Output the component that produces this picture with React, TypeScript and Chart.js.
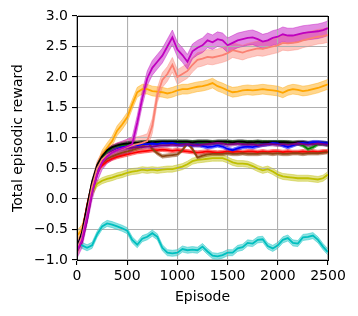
import React, { useEffect, useRef } from "react";
import { Chart, registerables } from "chart.js";
Chart.register(...registerables);

const episodes = [
  0, 50, 100, 150, 200, 250, 300, 350, 400, 450,
  500, 550, 600, 650, 700, 750, 800, 850, 900, 950,
  1000, 1050, 1100, 1150, 1200, 1250, 1300, 1350, 1400, 1450,
  1500, 1550, 1600, 1650, 1700, 1750, 1800, 1850, 1900, 1950,
  2000, 2050, 2100, 2150, 2200, 2250, 2300, 2350, 2400, 2450, 2500,
];

const magentaVals = [
  -0.85, -0.68, -0.30, 0.10, 0.40, 0.60, 0.70, 0.76, 0.80, 0.83,
  0.86, 0.90, 1.25, 1.65, 1.98, 2.15, 2.25, 2.35, 2.50, 2.65,
  2.45, 2.36, 2.25, 2.42, 2.48, 2.52, 2.60, 2.57, 2.62, 2.60,
  2.52, 2.56, 2.60, 2.62, 2.64, 2.65, 2.62, 2.58, 2.60, 2.64,
  2.66, 2.70, 2.68, 2.68, 2.70, 2.72, 2.73, 2.74, 2.75, 2.77, 2.80,
];
const salmonVals = [
  -0.82, -0.62, -0.25, 0.20, 0.50, 0.65, 0.72, 0.76, 0.80, 0.82,
  0.85, 0.88, 0.90, 0.92, 0.95, 1.20, 1.70, 1.95, 2.05, 2.20,
  2.00, 2.05, 2.10, 2.20, 2.28, 2.30, 2.33, 2.32, 2.34, 2.36,
  2.39, 2.44, 2.42, 2.40, 2.43, 2.45, 2.47, 2.46, 2.48, 2.50,
  2.52, 2.56, 2.55, 2.56, 2.57, 2.60, 2.62, 2.64, 2.66, 2.67, 2.69,
];
const orangeVals = [
  -0.60, -0.50, -0.20, 0.20, 0.50, 0.72, 0.84, 0.95, 1.12, 1.22,
  1.34, 1.55, 1.75, 1.80, 1.80, 1.77, 1.76, 1.75, 1.73, 1.75,
  1.78, 1.80, 1.80, 1.82, 1.84, 1.85, 1.87, 1.90, 1.85, 1.82,
  1.78, 1.75, 1.76, 1.78, 1.79, 1.78, 1.79, 1.80, 1.79, 1.78,
  1.77, 1.74, 1.78, 1.80, 1.79, 1.77, 1.78, 1.80, 1.82, 1.85, 1.88,
];
const blackVals = [
  -0.80, -0.55, -0.12, 0.28, 0.55, 0.70, 0.80, 0.85, 0.88, 0.90,
  0.91, 0.92, 0.92, 0.93, 0.93, 0.93, 0.94, 0.94, 0.94, 0.94,
  0.94, 0.94, 0.94, 0.93, 0.94, 0.94, 0.94, 0.93, 0.94, 0.94,
  0.94, 0.93, 0.94, 0.94, 0.93, 0.93, 0.94, 0.93, 0.93, 0.93,
  0.93, 0.93, 0.93, 0.92, 0.93, 0.93, 0.92, 0.92, 0.92, 0.92, 0.91,
];
const greenVals = [
  -0.82, -0.60, -0.20, 0.20, 0.50, 0.68, 0.78, 0.84, 0.87, 0.88,
  0.90, 0.91, 0.92, 0.92, 0.93, 0.93, 0.92, 0.93, 0.93, 0.93,
  0.93, 0.93, 0.93, 0.93, 0.93, 0.93, 0.93, 0.93, 0.93, 0.93,
  0.93, 0.93, 0.93, 0.93, 0.93, 0.93, 0.93, 0.93, 0.93, 0.93,
  0.93, 0.93, 0.92, 0.92, 0.91, 0.88, 0.82, 0.85, 0.90, 0.91, 0.89,
];
const blueVals = [
  -0.82, -0.62, -0.25, 0.15, 0.45, 0.62, 0.72, 0.78, 0.82, 0.85,
  0.86, 0.88, 0.88, 0.90, 0.90, 0.91, 0.90, 0.92, 0.91, 0.92,
  0.90, 0.89, 0.90, 0.88, 0.89, 0.87, 0.85, 0.86, 0.88, 0.86,
  0.82, 0.80, 0.83, 0.85, 0.86, 0.85, 0.87, 0.89, 0.90, 0.92,
  0.91, 0.88, 0.85, 0.88, 0.91, 0.92, 0.91, 0.93, 0.93, 0.92, 0.91,
];
const purpleVals = [
  -0.85, -0.70, -0.35, 0.10, 0.40, 0.62, 0.73, 0.78, 0.81, 0.83,
  0.84, 0.84, 0.85, 0.85, 0.86, 0.86, 0.87, 0.88, 0.88, 0.89,
  0.88, 0.89, 0.90, 0.89, 0.88, 0.89, 0.90, 0.91, 0.92, 0.91,
  0.89, 0.90, 0.91, 0.90, 0.89, 0.90, 0.88, 0.89, 0.90, 0.90,
  0.89, 0.90, 0.89, 0.90, 0.91, 0.90, 0.89, 0.90, 0.91, 0.90, 0.89,
];
const redVals = [
  -0.85, -0.55, -0.10, 0.25, 0.45, 0.55, 0.62, 0.66, 0.69, 0.71,
  0.73, 0.75, 0.77, 0.78, 0.79, 0.80, 0.80, 0.81, 0.80, 0.79,
  0.80, 0.79, 0.78, 0.77, 0.76, 0.77, 0.78, 0.77, 0.76, 0.77,
  0.78, 0.77, 0.78, 0.77, 0.78, 0.78, 0.77, 0.78, 0.77, 0.78,
  0.78, 0.77, 0.78, 0.77, 0.77, 0.78, 0.77, 0.78, 0.77, 0.78, 0.78,
];
const brownVals = [
  -0.82, -0.60, -0.20, 0.20, 0.48, 0.60, 0.66, 0.70, 0.73, 0.76,
  0.78, 0.80, 0.83, 0.86, 0.95, 0.82, 0.75, 0.70, 0.71, 0.72,
  0.73, 0.80, 0.92, 0.82, 0.68, 0.71, 0.73, 0.74, 0.74, 0.74,
  0.75, 0.74, 0.74, 0.75, 0.74, 0.74, 0.74, 0.75, 0.75, 0.74,
  0.75, 0.74, 0.74, 0.75, 0.75, 0.74, 0.75, 0.75, 0.75, 0.76, 0.77,
];
const oliveVals = [
  -0.85, -0.60, -0.20, 0.10, 0.25, 0.30, 0.33, 0.35, 0.38, 0.40,
  0.43, 0.45, 0.46, 0.48, 0.47, 0.48, 0.47, 0.48, 0.49, 0.49,
  0.51, 0.53, 0.57, 0.62, 0.64, 0.65, 0.66, 0.67, 0.67, 0.67,
  0.64, 0.60, 0.58, 0.58, 0.57, 0.54, 0.50, 0.47, 0.49, 0.45,
  0.40, 0.37, 0.36, 0.35, 0.34, 0.34, 0.34, 0.33, 0.32, 0.34, 0.40,
];
const cyanVals = [
  -0.72, -0.76, -0.80, -0.76, -0.58, -0.45, -0.40, -0.42, -0.45, -0.48,
  -0.52, -0.67, -0.75, -0.65, -0.62, -0.56, -0.62, -0.80, -0.88, -0.89,
  -0.88, -0.82, -0.84, -0.83, -0.84, -0.78, -0.86, -0.93, -0.94, -0.92,
  -0.88, -0.88, -0.81, -0.79, -0.72, -0.73, -0.67, -0.66, -0.77, -0.81,
  -0.76, -0.67, -0.64, -0.72, -0.73, -0.63, -0.62, -0.60, -0.67, -0.78, -0.87,
];

// half-widths of the shaded bands
const magentaBand = 0.12;
const salmonBand = 0.12;
const orangeBand = 0.08;
const oliveBand = 0.05;
const cyanBand = 0.05;
const clusterBand = 0.03;

const seriesList = [
  { name: "magenta", values: magentaVals, band: magentaBand, rgb: [191, 0, 191] },
  { name: "salmon", values: salmonVals, band: salmonBand, rgb: [250, 128, 114] },
  { name: "purple", values: purpleVals, band: clusterBand, rgb: [128, 0, 128] },
  { name: "blue", values: blueVals, band: clusterBand, rgb: [0, 0, 255] },
  { name: "black", values: blackVals, band: clusterBand, rgb: [0, 0, 0] },
  { name: "green", values: greenVals, band: clusterBand, rgb: [0, 128, 0] },
  { name: "brown", values: brownVals, band: clusterBand, rgb: [139, 69, 19] },
  { name: "red", values: redVals, band: clusterBand, rgb: [255, 0, 0] },
  { name: "orange", values: orangeVals, band: orangeBand, rgb: [255, 165, 0] },
  { name: "olive", values: oliveVals, band: oliveBand, rgb: [191, 191, 0] },
  { name: "cyan", values: cyanVals, band: cyanBand, rgb: [0, 191, 191] },
];

const FONT = "'DejaVu Sans', sans-serif";

const framePlugin = {
  id: "frame",
  afterDatasetsDraw(chart: any) {
    const { ctx, chartArea } = chart;
    ctx.save();
    ctx.strokeStyle = "#000";
    ctx.lineWidth = 1;
    ctx.strokeRect(
      Math.round(chartArea.left) + 0.5,
      Math.round(chartArea.top) + 0.5,
      Math.round(chartArea.right - chartArea.left),
      Math.round(chartArea.bottom - chartArea.top)
    );
    ctx.restore();
  },
};

export default function App() {
  const ref = useRef<HTMLCanvasElement | null>(null);

  useEffect(() => {
    if (!ref.current) return;
    const datasets: any[] = [];
    seriesList.forEach((s, k) => {
      const rgba = (a: number) => `rgba(${s.rgb[0]},${s.rgb[1]},${s.rgb[2]},${a})`;
      const pts = (d: number) => episodes.map((e, i) => ({ x: e, y: s.values[i] + d }));
      const upperIdx = datasets.length;
      datasets.push({
        label: s.name + " upper",
        data: pts(s.band),
        borderColor: rgba(0.5),
        borderWidth: 0.8,
        backgroundColor: rgba(0.45),
        fill: { target: upperIdx + 1 },
        pointRadius: 0,
        tension: 0,
        order: 100,
      });
      datasets.push({
        label: s.name + " lower",
        data: pts(-s.band),
        borderColor: rgba(0.5),
        borderWidth: 0.8,
        fill: false,
        pointRadius: 0,
        tension: 0,
        order: 100,
      });
      datasets.push({
        label: s.name,
        data: pts(0),
        borderColor: rgba(1),
        borderWidth: 1.8,
        fill: false,
        pointRadius: 0,
        tension: 0,
        order: k,
      });
    });

    const chart = new Chart(ref.current, {
      type: "line",
      data: { datasets },
      plugins: [framePlugin],
      options: {
        animation: false,
        responsive: true,
        maintainAspectRatio: false,
        layout: { padding: { left: 0, right: 30, top: 16, bottom: 0 } },
        plugins: {
          legend: { display: false },
          tooltip: { enabled: false },
          filler: { drawTime: "beforeDraw" } as any,
        },
        scales: {
          x: {
            type: "linear",
            min: 0,
            max: 2500,
            afterFit: (scale: any) => {
              scale.height = 56;
            },
            ticks: {
              stepSize: 500,
              color: "#000",
              font: { family: FONT, size: 14 },
              padding: 3,
              maxRotation: 0,
              callback: (v: any) => String(Number(v)),
            },
            grid: { color: "#b0b0b0", lineWidth: 1.1, tickColor: "#000", tickLength: 5 },
            border: { color: "#000", width: 1 },
            title: {
              display: true,
              text: "Episode",
              color: "#000",
              font: { family: FONT, size: 14 },
              padding: { top: 0, bottom: 10 },
            },
          },
          y: {
            type: "linear",
            min: -1,
            max: 3,
            afterFit: (scale: any) => {
              scale.width = 77;
            },
            ticks: {
              stepSize: 0.5,
              color: "#000",
              font: { family: FONT, size: 14 },
              padding: 4,
              callback: (v: any) => {
                const n = Number(v);
                return (n < 0 ? "\u2212" : "") + Math.abs(n).toFixed(1);
              },
            },
            grid: { color: "#b0b0b0", lineWidth: 1.1, tickColor: "#000", tickLength: 5 },
            border: { color: "#000", width: 1 },
            title: {
              display: true,
              text: "Total episodic reward",
              color: "#000",
              font: { family: FONT, size: 14 },
              padding: { top: 10, bottom: 0 },
            },
          },
        },
      },
    });
    return () => chart.destroy();
  }, []);

  return (
    <div style={{ position: "absolute", left: 0, top: 0, width: 358, height: 316, background: "#fff" }}>
      <canvas ref={ref} />
    </div>
  );
}
